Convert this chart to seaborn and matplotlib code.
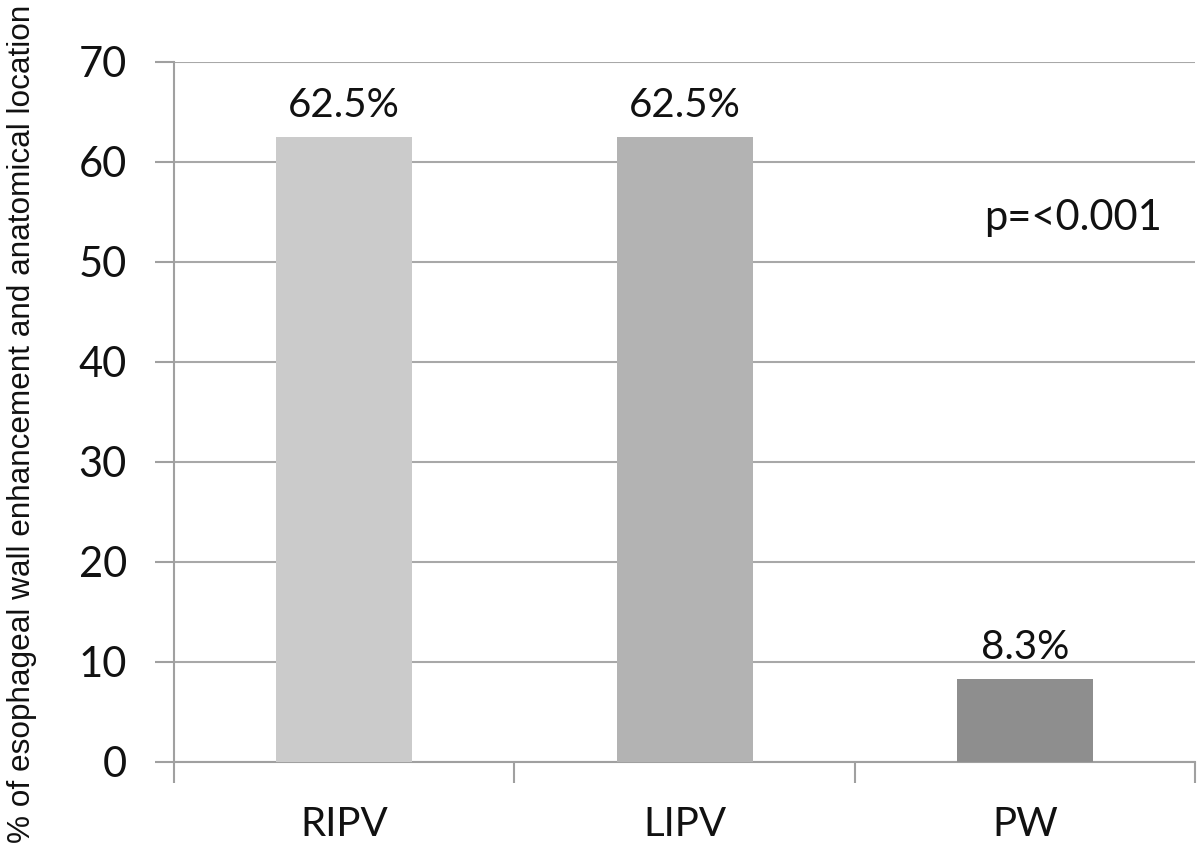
import matplotlib
matplotlib.use("Agg")
import matplotlib.pyplot as plt
import seaborn as sns
import pandas as pd

categories = ["RIPV", "LIPV", "PW"]
values = [62.5, 62.5, 8.3]
value_labels = ["62.5%", "62.5%", "8.3%"]
bar_colors = ["#cbcbcb", "#b3b3b3", "#8e8e8e"]
y_ticks = [0, 10, 20, 30, 40, 50, 60, 70]
y_label = "% of esophageal wall enhancement and anatomical location"
p_text = "p=<0.001"

sns.set_theme(style="white")
plt.rcParams['font.family'] = ['Lato', 'DejaVu Sans']

df = pd.DataFrame({"cat": categories, "val": values})

fig = plt.figure(figsize=(12, 8.51), dpi=100)
ax = fig.add_axes([0.145, 0.1046, 0.851, 0.8226])

sns.barplot(data=df, x="cat", y="val", hue="cat", palette=bar_colors,
            width=0.4, dodge=False, legend=False, ax=ax, saturation=1,
            linewidth=0, zorder=3)

ax.set_ylim(0, 70)
ax.set_xlim(-0.5, 2.5)
ax.set_yticks(y_ticks)
ax.set_yticklabels([str(t) for t in y_ticks], fontsize=30, color="#111111")
ax.set_xticks(range(len(categories)))
ax.set_xticklabels(categories, fontsize=29, color="#111111")
ax.tick_params(axis="x", which="major", length=0, pad=32, bottom=True)
ax.set_xticks([-0.5, 0.5, 1.5, 2.5], minor=True)
ax.tick_params(axis="x", which="minor", length=15, width=1.5, color="#a0a0a0",
               direction="out", bottom=True)
ax.tick_params(axis="y", which="major", length=14, width=1.5, color="#a0a0a0",
               direction="out", pad=20, left=True)

ax.grid(axis="y", color="#a8a8a8", linewidth=1.5, zorder=0)
ax.set_axisbelow(True)
for s in ["top", "right"]:
    ax.spines[s].set_visible(False)
for s in ["left", "bottom"]:
    ax.spines[s].set_color("#a0a0a0")
    ax.spines[s].set_linewidth(1.5)

for i, (v, lab) in enumerate(zip(values, value_labels)):
    ax.annotate(lab, xy=(i, v), xytext=(0, 9), textcoords="offset points",
                ha="center", va="bottom", fontsize=29, color="#111111")

ax.text(2.14, 54.4, p_text, ha="center", va="center", fontsize=30, color="#111111")

ax.set_xlabel("")
ax.set_ylabel("")
fig.text(0.018, 0.502, y_label, rotation=90, ha="center", va="center",
         fontsize=22.7, family=["Liberation Sans", "DejaVu Sans"], color="#111111")

fig.savefig("out.png", dpi=100)
